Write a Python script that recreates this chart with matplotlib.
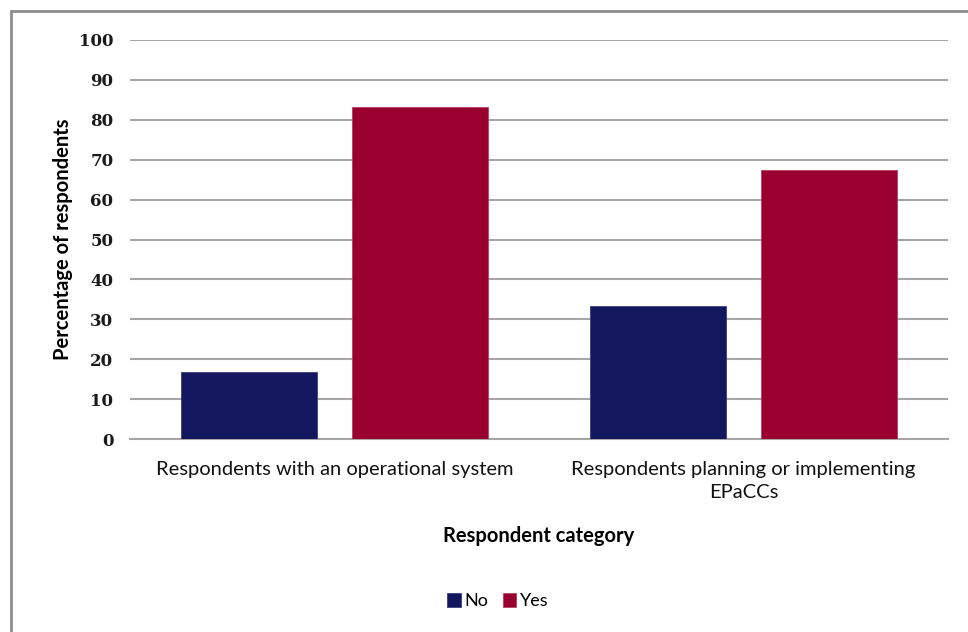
import numpy as np
import matplotlib
matplotlib.use("Agg")
import matplotlib.pyplot as plt
from matplotlib.patches import Rectangle

# data
categories = ["Respondents with an operational system",
              "Respondents planning or implementing\nEPaCCs"]
series_names = ["No", "Yes"]
no_vals = [16.7, 33.3]
yes_vals = [83.3, 67.5]
yticks = list(range(0, 101, 10))

navy = "#12175e"
maroon = "#990030"
grid_col = "#a6a6a6"

fig = plt.figure(figsize=(9.68, 6.32), dpi=100)
ax = fig.add_axes([130/968, 1 - 439/632, 818/968, 399/632])

# outer chart frame (runs off the right and bottom edge)
fig.patches.append(Rectangle((11/968, -0.05), 1.0, 1 - 11/632 + 0.05,
                             transform=fig.transFigure, fill=False,
                             edgecolor="#8c8c8c", linewidth=2))

x = np.arange(len(categories))
w = 0.333
off = 0.209
ax.bar(x - off, no_vals, w, color=navy, edgecolor="#3a3f80", linewidth=0.6,
       label=series_names[0], zorder=3)
ax.bar(x + off, yes_vals, w, color=maroon, edgecolor="#b8405f", linewidth=0.6,
       label=series_names[1], zorder=3)

ax.set_xlim(-0.5, 1.5)
ax.set_ylim(0, 100)
ax.set_yticks(yticks)
ax.yaxis.grid(True, color=grid_col, linewidth=1.5)
ax.set_axisbelow(True)
for s in ["top", "right", "left"]:
    ax.spines[s].set_visible(False)
ax.spines["bottom"].set_color(grid_col)
ax.spines["bottom"].set_linewidth(1.5)
ax.tick_params(length=0)

ax.set_yticklabels([str(v) for v in yticks], family="DejaVu Serif",
                   fontweight="bold", fontsize=12, color="#1a1a1a")
ax.tick_params(axis="y", pad=12)
ax.set_xticks(x)
ax.set_xticklabels(categories, family="Lato", fontsize=14.5, color="#111111",
                   linespacing=1.4)
ax.tick_params(axis="x", pad=16)

ax.set_ylabel("Percentage of respondents", family="Lato", fontweight="bold",
              fontsize=14.5, labelpad=4)
ax.set_xlabel("Respondent category", family="Lato", fontweight="bold",
              fontsize=14.5, labelpad=18)

leg = fig.legend(loc="center", bbox_to_anchor=(498/968, 1 - 601/632), ncol=2,
                 frameon=False, handlelength=0.75, handleheight=0.8,
                 handletextpad=0.2, columnspacing=0.8,
                 prop={"family": "Lato", "size": 13})

fig.savefig("out.png", dpi=100)
